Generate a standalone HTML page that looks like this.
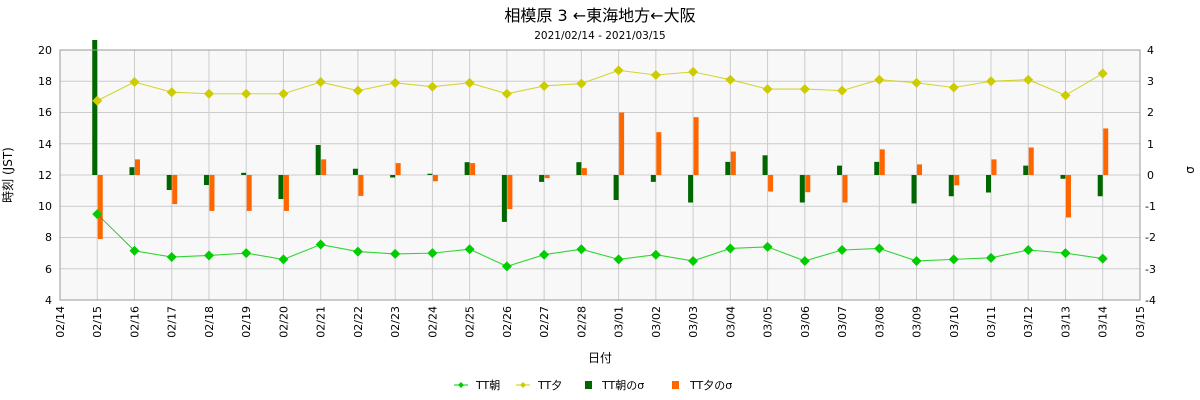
<!DOCTYPE html>
<html><head><meta charset="utf-8"><style>
body{margin:0;background:#fff;}
svg{display:block;font-family:"DejaVu Sans","Noto Sans CJK JP",sans-serif;}
</style></head><body>
<svg id="s" width="1200" height="400" xmlns="http://www.w3.org/2000/svg">
<rect x="60" y="50" width="1080" height="250" fill="#f8f8f8"/>
<g id="grid"></g>
<g id="bars"></g>
<g id="lines"></g>
<rect x="60" y="50" width="1080" height="250" fill="none" stroke="#999" stroke-width="1"/>
<text x="600" y="21" font-size="16" text-anchor="middle" fill="#000">相模原 3 ←東海地方←大阪</text>
<text x="600" y="39" font-size="10.5" text-anchor="middle" fill="#000">2021/02/14 - 2021/03/15</text>
<g font-size="11" fill="#000" text-anchor="end">
<text x="52" y="54">20</text><text x="52" y="85">18</text><text x="52" y="116">16</text><text x="52" y="148">14</text><text x="52" y="179">12</text><text x="52" y="210">10</text><text x="52" y="241">8</text><text x="52" y="273">6</text><text x="52" y="304">4</text>
</g>
<g font-size="11" fill="#000" text-anchor="start">
<text x="1147" y="54">4</text><text x="1147" y="85">3</text><text x="1147" y="116">2</text><text x="1147" y="148">1</text><text x="1147" y="179">0</text><text x="1145" y="210">-1</text><text x="1145" y="241">-2</text><text x="1145" y="273">-3</text><text x="1145" y="304">-4</text>
</g>
<text transform="translate(12,175) rotate(-90)" font-size="12" text-anchor="middle">時刻 (JST)</text>
<text transform="translate(1194,170) rotate(-90)" font-size="12" text-anchor="middle">σ</text>
<text x="600" y="362" font-size="12" text-anchor="middle">日付</text>
<g id="xl" font-size="11" text-anchor="end">
<text transform="translate(64,306) rotate(-90)">02/14</text>
<text transform="translate(101.2,306) rotate(-90)">02/15</text>
<text transform="translate(138.5,306) rotate(-90)">02/16</text>
<text transform="translate(175.7,306) rotate(-90)">02/17</text>
<text transform="translate(213,306) rotate(-90)">02/18</text>
<text transform="translate(250.2,306) rotate(-90)">02/19</text>
<text transform="translate(287.4,306) rotate(-90)">02/20</text>
<text transform="translate(324.7,306) rotate(-90)">02/21</text>
<text transform="translate(361.9,306) rotate(-90)">02/22</text>
<text transform="translate(399.2,306) rotate(-90)">02/23</text>
<text transform="translate(436.4,306) rotate(-90)">02/24</text>
<text transform="translate(473.6,306) rotate(-90)">02/25</text>
<text transform="translate(510.9,306) rotate(-90)">02/26</text>
<text transform="translate(548.1,306) rotate(-90)">02/27</text>
<text transform="translate(585.4,306) rotate(-90)">02/28</text>
<text transform="translate(622.6,306) rotate(-90)">03/01</text>
<text transform="translate(659.8,306) rotate(-90)">03/02</text>
<text transform="translate(697.1,306) rotate(-90)">03/03</text>
<text transform="translate(734.3,306) rotate(-90)">03/04</text>
<text transform="translate(771.6,306) rotate(-90)">03/05</text>
<text transform="translate(808.8,306) rotate(-90)">03/06</text>
<text transform="translate(846,306) rotate(-90)">03/07</text>
<text transform="translate(883.3,306) rotate(-90)">03/08</text>
<text transform="translate(920.5,306) rotate(-90)">03/09</text>
<text transform="translate(957.8,306) rotate(-90)">03/10</text>
<text transform="translate(995,306) rotate(-90)">03/11</text>
<text transform="translate(1032.2,306) rotate(-90)">03/12</text>
<text transform="translate(1069.5,306) rotate(-90)">03/13</text>
<text transform="translate(1106.7,306) rotate(-90)">03/14</text>
<text transform="translate(1144,306) rotate(-90)">03/15</text>
</g>
<g font-size="11">
<line x1="454" y1="385" x2="468" y2="385" stroke="#00cc00"/><path d="M461 382L464 385L461 388L458 385Z" fill="#00cc00"/>
<text x="476" y="389">TT朝</text>
<line x1="516" y1="385" x2="530" y2="385" stroke="#cccc00"/><path d="M523 382L526 385L523 388L520 385Z" fill="#cccc00"/>
<text x="538" y="389">TT夕</text>
<rect x="585" y="381" width="7" height="8" fill="#006600"/>
<text x="602" y="389">TT朝のσ</text>
<rect x="672" y="381" width="7" height="8" fill="#ff6600"/>
<text x="690" y="389">TT夕のσ</text>
</g>
</svg>
<script>
var NS="http://www.w3.org/2000/svg";
function X(i){return 60+37.24*i;}
function Y(v){return 50+(20-v)*15.625;}
function S(s){return 175-s*31.25;}
function el(p,t,a){var e=document.createElementNS(NS,t);for(var k in a)e.setAttribute(k,a[k]);document.getElementById(p).appendChild(e);return e;}
for(var i=1;i<29;i++)el("grid","line",{x1:X(i),x2:X(i),y1:50,y2:300,stroke:"#ccc"});
for(var v=6;v<20;v+=2)el("grid","line",{x1:60,x2:1140,y1:Y(v),y2:Y(v),stroke:"#ccc"});
var m=[9.5,7.15,6.75,6.85,7.0,6.6,7.55,7.1,6.95,7.0,7.25,6.15,6.9,7.25,6.6,6.9,6.5,7.3,7.4,6.5,7.2,7.3,6.5,6.6,6.7,7.2,7.0,6.65];
var e=[16.75,17.95,17.3,17.2,17.2,17.2,17.95,17.4,17.9,17.65,17.9,17.2,17.7,17.85,18.7,18.4,18.6,18.1,17.5,17.5,17.4,18.1,17.9,17.6,18.0,18.1,17.1,18.5];
var gs=[4.32,.25,-.48,-.32,.07,-.77,.96,.2,-.08,.04,.41,-1.5,-.22,.41,-.8,-.22,-.88,.42,.63,-.88,.3,.42,-.91,-.68,-.56,.3,-.12,-.68];
var os=[-2.05,.5,-.93,-1.15,-1.15,-1.15,.5,-.67,.38,-.2,.38,-1.09,-.1,.22,2.0,1.37,1.85,.75,-.53,-.55,-.88,.82,.34,-.33,.5,.88,-1.36,1.49];
for(var i=0;i<28;i++){var x=X(i+1);
 var y=S(gs[i]);el("bars","rect",{x:x-5,y:Math.min(y,175),width:5,height:Math.max(1,Math.abs(y-175)),fill:"#006600"});
 y=S(os[i]);el("bars","rect",{x:x+0.5,y:Math.min(y,175),width:5,height:Math.max(1,Math.abs(y-175)),fill:"#ff6600"});}
function line(d,c,w,start){var p=d.slice(start).map(function(v,i){return X(i+1+start)+","+Y(v)}).join(" ");
 el("lines","polyline",{points:p,fill:"none",stroke:c,"stroke-width":w,opacity:0.8});
 d.forEach(function(v,i){var x=X(i+1),y=Y(v);el("lines","path",{d:"M"+x+" "+(y-5)+"L"+(x+5)+" "+y+"L"+x+" "+(y+5)+"L"+(x-5)+" "+y+"Z",fill:c});});}
line(e,"#cccc00",1.1,0);
el("lines","line",{x1:X(1),y1:Y(m[0]),x2:X(2),y2:Y(m[1]),stroke:"#009900","stroke-width":0.7});
line(m,"#00cc00",1.1,1);
</script>
</body></html>
